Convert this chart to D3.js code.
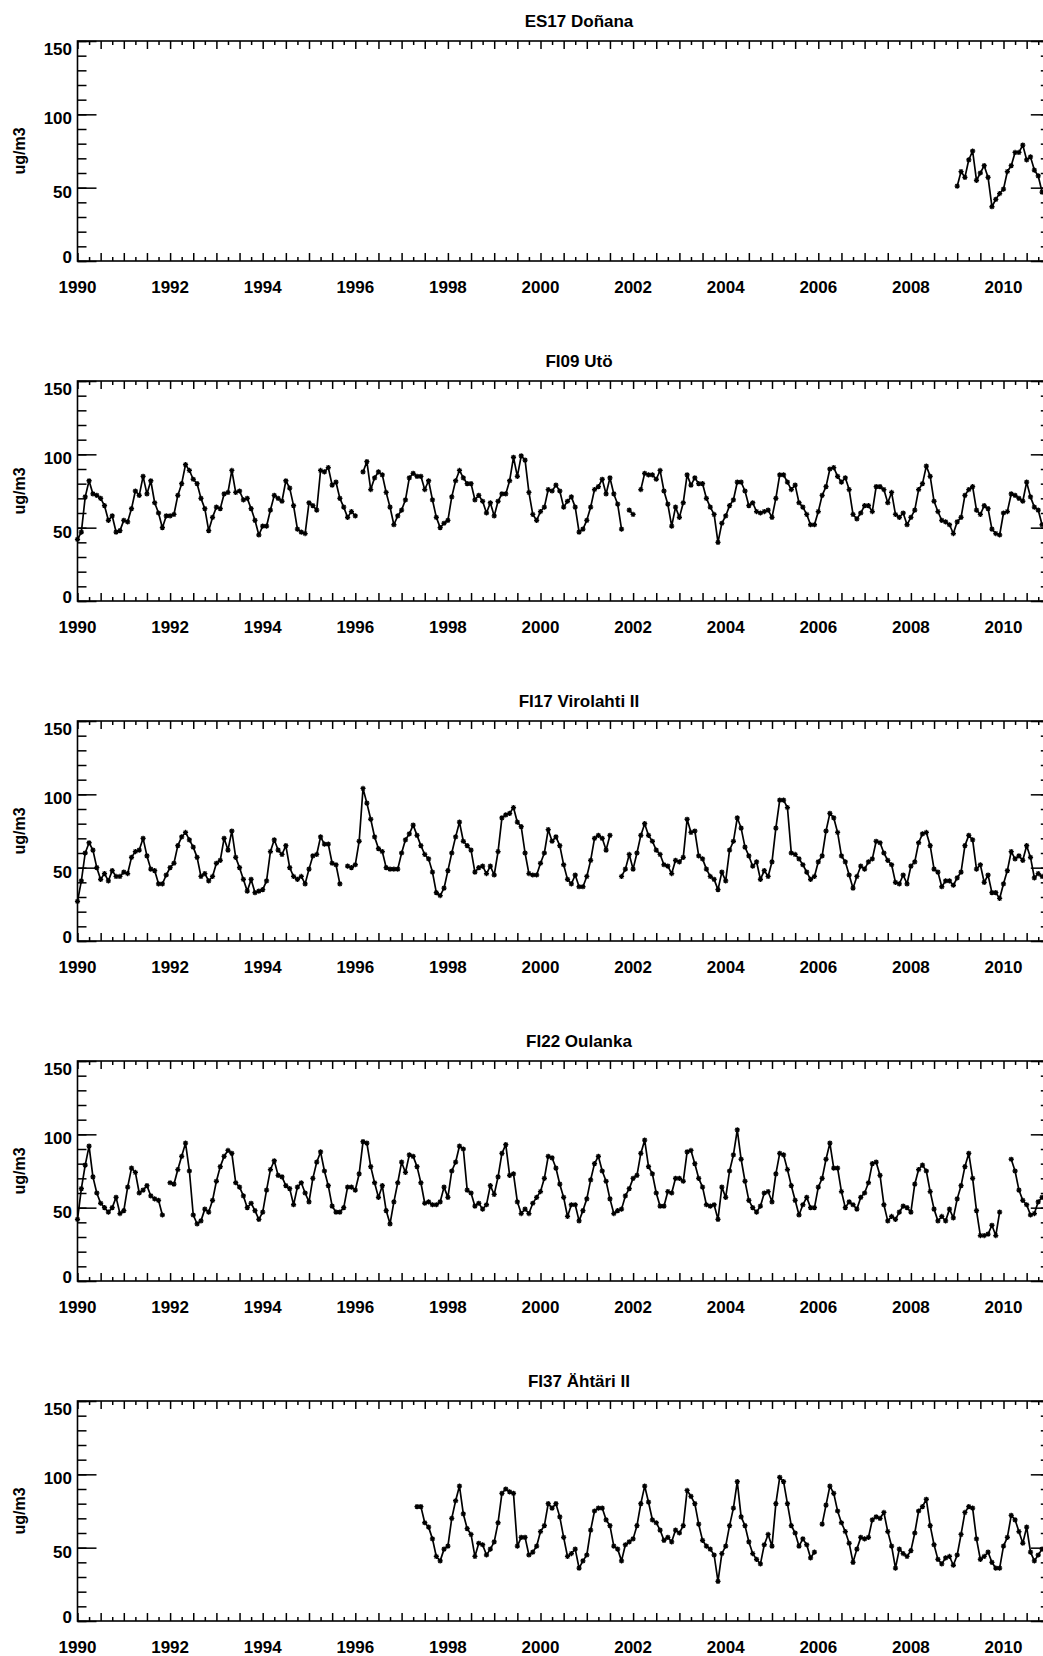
<!DOCTYPE html>
<html>
<head>
<meta charset="utf-8">
<script src="https://cdn.jsdelivr.net/npm/d3@7"></script>
<style>
body { margin: 0; background: #fff; }
svg { display: block; }
text { font-family: "Liberation Sans", Arial, sans-serif; font-weight: bold; fill: #000; }
</style>
</head>
<body>
<svg id="chart" width="1043" height="1656"></svg>
<script>
// monthly means in ug/m3, first value sits at month index *Start (0 = Jan 1990), null = no data
var es17Start = 228;
var es17 = [51, 61, 57, 69, 75, 55, 60, 65, 57, 37, 42, 46, 49, 61, 65, 74, 74, 79, 69, 71, 62, 58, 47];

var fi09Start = 0;
var fi09 = [
  42, 47, 71, 82, 73, 72, 70, 65, 55, 58, 47, 48,
  55, 54, 63, 75, 72, 85, 73, 82, 67, 60, 50, 58,
  58, 59, 72, 80, 93, 89, 83, 80, 70, 63, 48, 57,
  64, 63, 73, 74, 89, 74, 75, 69, 70, 63, 55, 45,
  51, 51, 62, 72, 70, 68, 82, 77, 65, 49, 47, 46,
  67, 65, 62, 89, 88, 91, 79, 81, 70, 64, 57, 61,
  58, null, 88, 95, 76, 84, 88, 86, 74, 64, 52, 58,
  62, 69, 84, 87, 85, 85, 76, 82, 69, 57, 50, 53,
  55, 71, 82, 89, 84, 80, 80, 69, 72, 68, 60, 67,
  58, 68, 73, 73, 82, 98, 85, 99, 96, 74, 59, 55,
  61, 64, 76, 75, 79, 75, 64, 68, 71, 64, 47, 49,
  55, 64, 76, 78, 83, 73, 84, 73, 66, 49, null, 62,
  59, null, 76, 87, 86, 86, 83, 89, 75, 66, 51, 64,
  57, 67, 86, 79, 84, 80, 80, 70, 64, 59, 40, 53,
  58, 65, 69, 81, 81, 75, 65, 67, 61, 60, 61, 62,
  57, 70, 86, 86, 81, 76, 79, 67, 64, 59, 52, 52,
  61, 72, 78, 90, 91, 85, 81, 84, 76, 59, 56, 60,
  65, 65, 61, 78, 78, 76, 67, 74, 59, 57, 60, 52,
  57, 62, 76, 80, 92, 85, 68, 61, 55, 54, 52, 46,
  54, 57, 72, 76, 78, 62, 59, 65, 63, 49, 46, 45,
  60, 61, 73, 72, 70, 68, 81, 71, 64, 62, 52
];

var fi17Start = 0;
var fi17 = [
  27, 41, 60, 67, 62, 50, 42, 46, 41, 48, 44, 44,
  47, 46, 57, 61, 62, 70, 58, 49, 48, 39, 39, 45,
  50, 53, 65, 71, 74, 69, 64, 57, 44, 46, 41, 44,
  53, 55, 70, 62, 75, 57, 50, 42, 34, 42, 33, 34,
  35, 41, 61, 69, 62, 59, 65, 50, 44, 42, 44, 39,
  49, 58, 59, 71, 66, 66, 53, 52, 39, null, 51, 50,
  52, 68, 104, 94, 83, 71, 63, 61, 50, 49, 49, 49,
  60, 69, 73, 79, 72, 65, 59, 56, 47, 33, 31, 36,
  48, 60, 71, 81, 68, 65, 62, 47, 50, 51, 46, 51,
  45, 61, 84, 86, 87, 91, 81, 78, 60, 46, 45, 45,
  53, 60, 76, 68, 71, 65, 52, 42, 39, 45, 37, 37,
  44, 55, 70, 72, 70, 62, 72, null, null, 44, 49, 59,
  49, 60, 72, 80, 72, 68, 62, 59, 52, 51, 46, 55,
  54, 57, 83, 74, 75, 58, 56, 49, 44, 42, 35, 47,
  41, 62, 68, 84, 77, 64, 58, 51, 54, 42, 48, 44,
  54, 77, 96, 96, 91, 60, 59, 56, 52, 47, 42, 44,
  54, 58, 75, 87, 84, 74, 58, 54, 45, 36, 44, 51,
  49, 54, 56, 68, 67, 60, 55, 52, 40, 39, 45, 39,
  51, 54, 67, 73, 74, 65, 49, 47, 37, 41, 41, 38,
  43, 47, 65, 72, 69, 49, 52, 40, 45, 33, 33, 29,
  39, 48, 61, 56, 58, 55, 65, 57, 43, 46, 44
];

var fi22Start = 0;
var fi22 = [
  42, 63, 79, 92, 71, 60, 53, 50, 47, 50, 57, 46,
  48, 64, 77, 74, 60, 62, 65, 58, 56, 55, 45, null,
  67, 66, 76, 85, 94, 75, 45, 39, 41, 49, 47, 55,
  68, 78, 85, 89, 87, 67, 64, 58, 50, 53, 48, 42,
  47, 62, 76, 82, 72, 71, 65, 63, 52, 64, 67, 60,
  54, 70, 81, 88, 75, 65, 51, 47, 47, 50, 64, 64,
  62, 73, 95, 94, 78, 67, 57, 65, 48, 39, 54, 67,
  81, 74, 86, 85, 78, 67, 53, 54, 52, 52, 54, 64,
  57, 75, 81, 92, 90, 62, 60, 51, 53, 49, 52, 65,
  59, 71, 87, 93, 72, 73, 54, 46, 49, 46, 53, 57,
  61, 70, 85, 84, 77, 66, 57, 44, 52, 52, 41, 48,
  56, 69, 80, 85, 75, 68, 56, 46, 48, 49, 58, 63,
  70, 72, 87, 96, 78, 73, 60, 51, 51, 61, 60, 70,
  70, 68, 88, 89, 80, 70, 64, 52, 51, 52, 42, 64,
  57, 75, 86, 103, 83, 68, 55, 50, 47, 51, 60, 61,
  54, 73, 87, 86, 76, 65, 55, 45, 52, 57, 50, 50,
  64, 70, 83, 94, 77, 77, 61, 50, 54, 52, 49, 57,
  60, 67, 80, 81, 72, 52, 41, 44, 42, 47, 51, 50,
  47, 66, 76, 79, 75, 61, 49, 41, 44, 41, 49, 43,
  56, 65, 78, 87, 70, 48, 31, 31, 32, 38, 31, 47,
  null, null, 83, 75, 62, 55, 52, 45, 46, 54, 57
];

var fi37Start = 88;
var fi37 = [
  78, 78, 67, 64, 56, 44, 41, 49,
  51, 70, 82, 92, 73, 63, 59, 44, 53, 52, 45, 49,
  54, 67, 87, 90, 88, 87, 51, 57, 57, 45, 47, 51,
  61, 65, 80, 77, 80, 71, 57, 44, 46, 49, 36, 41,
  45, 62, 75, 77, 77, 69, 65, 51, 49, 41, 52, 54,
  56, 65, 80, 92, 81, 69, 67, 62, 55, 57, 54, 62,
  60, 65, 89, 85, 80, 66, 55, 51, 49, 45, 27, 46,
  51, 65, 77, 95, 71, 65, 54, 46, 42, 39, 52, 59,
  51, 80, 98, 95, 80, 65, 60, 51, 56, 52, 43, 47,
  null, 66, 79, 92, 87, 75, 67, 61, 53, 40, 49, 57,
  56, 57, 69, 71, 70, 74, 61, 51, 36, 49, 46, 44,
  48, 60, 75, 78, 83, 65, 52, 42, 39, 43, 44, 38,
  45, 59, 74, 78, 77, 56, 42, 44, 47, 40, 36, 36,
  51, 57, 72, 69, 61, 53, 64, 47, 41, 45, 49
];

var stationNames = ["ES17 Doñana", "FI09 Utö", "FI17 Virolahti II", "FI22 Oulanka", "FI37 Ähtäri II"];
var stationValues = [es17, fi09, fi17, fi22, fi37];
var stationStarts = [es17Start, fi09Start, fi17Start, fi22Start, fi37Start];

var yearLabels = [1990, 1992, 1994, 1996, 1998, 2000, 2002, 2004, 2006, 2008, 2010];
var yLabels = [0, 50, 100, 150];

//--------------------------------------------------------------
var svg = d3.select('#chart');

var plotLeft = 77.5;
var yearWidth = 46.3;
var panelTop = 41;
var panelHeight = 220;
var panelStep = 340;

// x range runs to 2011, the right frame falls just outside the picture
var x = d3.scaleLinear().domain([1990, 2011]).range([plotLeft, plotLeft + 21 * yearWidth]);
var halfYears = d3.range(1990, 2011.01, 0.5);
var quarters = d3.range(1990.25, 2011, 0.5);

function asterisk(r) {
  var d = r * 0.72;
  return 'M' + (-r) + ',0H' + r + 'M0,' + (-r) + 'V' + r +
    'M' + (-d) + ',' + (-d) + 'L' + d + ',' + d + 'M' + (-d) + ',' + d + 'L' + d + ',' + (-d);
}

function panel(i) {
  var top = panelTop + i * panelStep;
  var bottom = top + panelHeight;
  var y = d3.scaleLinear().domain([0, 150]).range([bottom, top]);
  var g = svg.append('g').attr('class', 'panel');

  // frame
  g.append('rect').attr('x', x(1990)).attr('y', top)
    .attr('width', x(2011) - x(1990)).attr('height', panelHeight)
    .attr('fill', 'none').attr('stroke', '#000').attr('stroke-width', 1.6);

  // y ticks, left and right, pointing inwards
  var sides = [[d3.axisRight, x(1990)], [d3.axisLeft, x(2011)]];
  sides.forEach(function (s) {
    g.append('g').attr('transform', 'translate(' + s[1] + ',0)')
      .call(s[0](y).tickValues(yLabels).tickSize(19).tickFormat(''));
    g.append('g').attr('transform', 'translate(' + s[1] + ',0)')
      .call(s[0](y).tickValues(d3.range(0, 151, 10)).tickSize(9).tickFormat(''));
  });

  // x ticks, bottom and top
  g.append('g').attr('transform', 'translate(0,' + bottom + ')')
    .call(d3.axisTop(x).tickValues(halfYears).tickSize(8).tickFormat(''));
  g.append('g').attr('transform', 'translate(0,' + bottom + ')')
    .call(d3.axisTop(x).tickValues(quarters).tickSize(4).tickFormat(''));
  g.append('g').attr('transform', 'translate(0,' + top + ')')
    .call(d3.axisBottom(x).tickValues(halfYears).tickSize(8).tickFormat(''));
  g.append('g').attr('transform', 'translate(0,' + top + ')')
    .call(d3.axisBottom(x).tickValues(quarters).tickSize(4).tickFormat(''));

  g.selectAll('.domain').remove();
  g.selectAll('.tick line').attr('stroke', '#000').attr('stroke-width', 1.5);

  // tick labels
  g.selectAll('text.xl').data(yearLabels).enter().append('text').attr('class', 'xl')
    .attr('x', function (d) { return x(d); }).attr('y', bottom + 32)
    .attr('text-anchor', 'middle').attr('font-size', 17).text(function (d) { return d; });

  var nudge = {0: -4, 50: 4, 100: 4, 150: 8};
  g.selectAll('text.yl').data(yLabels).enter().append('text').attr('class', 'yl')
    .attr('x', 72).attr('y', function (d) { return y(d) + nudge[d] + 6; })
    .attr('text-anchor', 'end').attr('font-size', 17).text(function (d) { return d; });

  g.append('text').attr('transform', 'translate(25,' + (top + panelHeight / 2) + ') rotate(-90)')
    .attr('text-anchor', 'middle').attr('font-size', 16).text('ug/m3');

  g.append('text').attr('x', 579).attr('y', top - 14)
    .attr('text-anchor', 'middle').attr('font-size', 17).text(stationNames[i]);

  // series
  var pts = stationValues[i].map(function (v, k) {
    return {t: 1990 + (stationStarts[i] + k) / 12, v: v};
  });
  var line = d3.line().defined(function (d) { return d.v !== null; })
    .x(function (d) { return x(d.t); }).y(function (d) { return y(d.v); });

  g.append('path').datum(pts).attr('d', line)
    .attr('fill', 'none').attr('stroke', '#000').attr('stroke-width', 1.7)
    .attr('stroke-linejoin', 'round');

  g.selectAll('path.mk').data(pts.filter(function (d) { return d.v !== null; }))
    .enter().append('path').attr('class', 'mk')
    .attr('transform', function (d) { return 'translate(' + x(d.t) + ',' + y(d.v) + ')'; })
    .attr('d', asterisk(2.6)).attr('stroke', '#000').attr('stroke-width', 1.3).attr('fill', 'none');
}

for (var i = 0; i < stationNames.length; i++) {
  panel(i);
}
</script>
</body>
</html>
